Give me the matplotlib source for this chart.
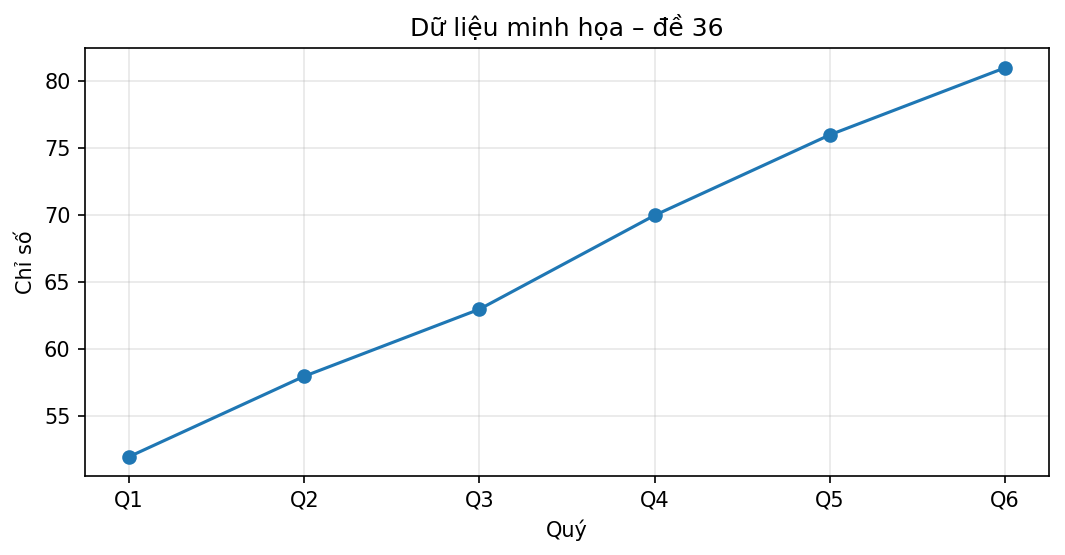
import matplotlib
matplotlib.use("Agg")
import matplotlib.pyplot as plt

quarters = ["Q1", "Q2", "Q3", "Q4", "Q5", "Q6"]
values = [52, 58, 63, 70, 76, 81]

fig, ax = plt.subplots(figsize=(7.1, 3.7), dpi=150)
ax.plot(quarters, values, marker="o", color="#1f77b4")
ax.set_title("Dữ liệu minh họa – đề 36")
ax.set_xlabel("Quý")
ax.set_ylabel("Chỉ số")
ax.grid(True, alpha=0.3)
fig.subplots_adjust(left=0.080, right=0.985, top=0.913, bottom=0.142)
fig.savefig("out.png", dpi=150)
